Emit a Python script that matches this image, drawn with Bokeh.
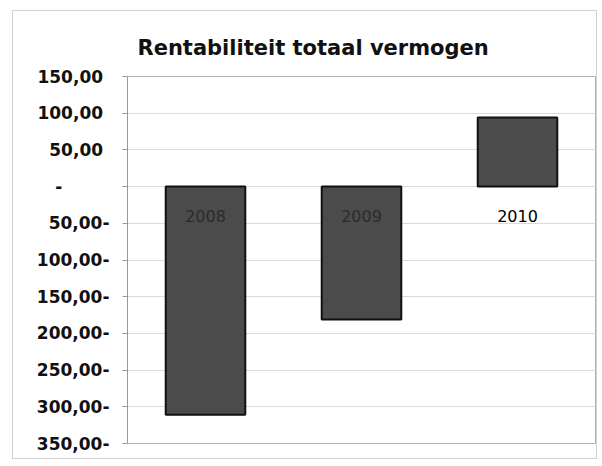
from bokeh.plotting import figure
from bokeh.models import FactorRange, Range1d, FixedTicker, ColumnDataSource
from bokeh.core.properties import value
from bokeh.embed import file_html
from bokeh.resources import INLINE

years = ["2008", "2009", "2010"]
values = [-311.0, -181.0, 94.0]
tick_values = [150, 100, 50, 0, -50, -100, -150, -200, -250, -300, -350]
tick_labels = ["150,00\u2008", "100,00\u2008", "50,00\u2008", "-\u2007\u2007\u2007\u2007", "50,00-", "100,00-", "150,00-",
               "200,00-", "250,00-", "300,00-", "350,00-"]
label_colors = ["#2b2b2b", "#2b2b2b", "#000000"]

src = ColumnDataSource(dict(x=years, top=values, c=label_colors))

p = figure(x_range=FactorRange(*years), y_range=Range1d(-350, 150),
           width=585, height=449, output_backend="svg", toolbar_location=None,
           min_border_left=114, min_border_right=3, min_border_top=65, min_border_bottom=17)
p.margin = (10, 0, 0, 12)
p.styles = {"border": "1px solid #d0d0d0"}

p.title.text = "Rentabiliteit totaal vermogen"
p.title.align = "left"
p.title.offset = 10
p.title.text_font = "DejaVu Sans"
p.title.text_font_size = "21px"
p.title.text_font_style = "bold"
p.title.text_color = "#111111"
p.title.standoff = 34

p.vbar(x="x", top="top", bottom=0, width=0.51, source=src,
       fill_color="#4b4b4b", line_color="#111111", line_width=2)

p.text(x="x", y=0, text="x", source=src, y_offset=29,
       text_align="center", text_baseline="middle",
       text_font=value("DejaVu Sans"), text_font_size="16px", text_color="c")

p.xaxis.visible = False
p.xgrid.visible = False
p.ygrid.grid_line_color = "#dadada"
p.ygrid.grid_line_width = 1

ax = p.yaxis[0]
ax.ticker = FixedTicker(ticks=tick_values)
ax.major_label_overrides = {t: l for t, l in zip(tick_values, tick_labels)}
ax.major_label_text_font = "DejaVu Sans"
ax.major_label_text_font_size = "17px"
ax.major_label_text_font_style = "bold"
ax.major_label_text_color = "#111111"
ax.major_label_standoff = 13
ax.axis_line_color = "#9a9a9a"
ax.major_tick_line_color = "#9a9a9a"
ax.major_tick_out = 5
ax.major_tick_in = 0
ax.minor_tick_line_color = None

p.outline_line_color = "#b0b0b0"
p.outline_line_width = 1

open("out.html", "w").write(file_html(p, INLINE))
